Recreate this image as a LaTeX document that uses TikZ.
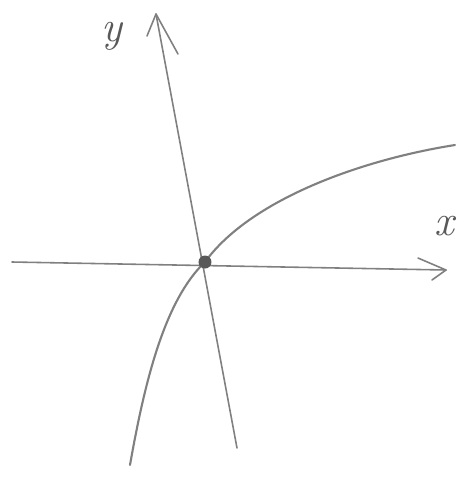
\documentclass[tikz,border=0pt]{standalone}
\begin{document}
\begin{tikzpicture}[x=0.02cm,y=-0.02cm,
  pencil/.style={draw=black!50, line width=0.9pt, line cap=round, line join=round},
  lbl/.style={text=black!65, font=\Huge\itshape}]
\useasboundingbox[fill=white] (0,0) rectangle (474,478);
% named points
\coordinate (O) at (205,262);
\coordinate (xl) at (12,262);
\coordinate (xr) at (446,270);
\coordinate (xb1) at (418,258);
\coordinate (xb2) at (432,280);
\coordinate (yb) at (237,448);
\coordinate (yt) at (156,14);
\coordinate (yb1) at (147,36);
\coordinate (yb2) at (178,54);
% axes
\draw[pencil] (xl) -- (xr);
\draw[pencil] (xb1) -- (xr) -- (xb2);
\draw[pencil] (yb) -- (yt);
\draw[pencil] (yb1) -- (yt) -- (yb2);
% curve
\draw[pencil, line width=1.2pt] (130,465) .. controls (145,380) and (165,300) .. (O)
  .. controls (250,200) and (360,160) .. (455,145);
% dot
\fill[black!65] (O) circle (6.5);
% labels
\node[lbl] (ylab) at (112,36) {y};
\node[lbl] (xlab) at (444,226) {x};
\end{tikzpicture}
\end{document}
